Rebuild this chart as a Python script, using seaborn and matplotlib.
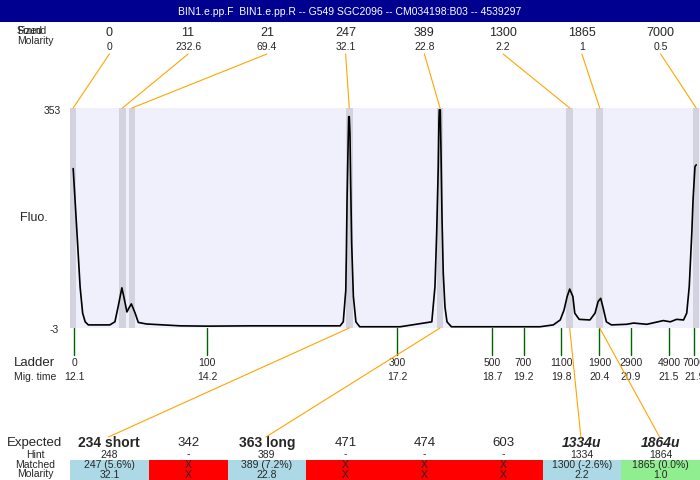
import numpy as np
import pandas as pd
import matplotlib
matplotlib.use("Agg")
import matplotlib.pyplot as plt
from matplotlib.patches import Rectangle, ConnectionPatch
import seaborn as sns

# ---- data ----
title = "BIN1.e.pp.F  BIN1.e.pp.R -- G549 SGC2096 -- CM034198:B03 -- 4539297"

# trace (migration time in min, fluorescence)
mig = [12.08, 12.11, 12.15, 12.19, 12.23, 12.27, 12.32, 12.66, 12.74, 12.79,
       12.85, 12.88, 12.93, 12.96, 13.00, 13.06, 13.11, 13.24, 13.77, 14.20,
       14.88, 15.67, 16.30, 16.35, 16.39, 16.40, 16.41, 16.425, 16.436, 16.445,
       16.456, 16.467, 16.483, 16.51, 16.55, 16.61, 17.25, 17.75, 17.80, 17.827,
       17.852, 17.863, 17.868, 17.884, 17.895, 17.911, 17.931, 17.958, 17.99, 18.06,
       18.83, 19.46, 19.67, 19.78, 19.84, 19.89, 19.93, 19.98, 20.01, 20.08,
       20.25, 20.33, 20.38, 20.42, 20.46, 20.51, 20.59, 20.83, 20.94, 21.15,
       21.41, 21.52, 21.62, 21.73, 21.78, 21.82, 21.86, 21.88, 21.91, 21.93]
fluo = [255, 204, 134, 63, 21, 7, 2, 2, 7, 31,
        62, 48, 23, 29, 36, 21, 6, 3.5, 0.5, 0,
        0.5, 0.5, 0.5, 7, 58, 123, 204, 285, 339, 339,
        312, 232, 134, 48, 7, -1, -1, 7, 64, 151,
        258, 334, 350, 350, 285, 177, 86, 31, 7, -1,
        -1, -1, 2, 10, 26, 48, 60, 48, 21, 11,
        10, 21, 40, 45, 29, 7, 2, 3, 5, 3,
        9, 7, 11, 10, 21, 64, 150, 204, 258, 261]

# found peaks
peak_size = ["0", "11", "21", "247", "389", "1300", "1865", "7000"]
peak_mol = ["0", "232.6", "69.4", "32.1", "22.8", "2.2", "1", "0.5"]
peak_time = [12.08, 12.86, 13.01, 16.445, 17.88, 19.93, 20.405, 21.93]

# ladder
ladder_size = ["0", "100", "300", "500", "700", "1100", "1900", "2900", "4900", "7000"]
ladder_time = [12.1, 14.2, 17.2, 18.7, 19.2, 19.8, 20.4, 20.9, 21.5, 21.9]

# expected table
expected = ["234 short", "342", "363 long", "471", "474", "603", "1334u", "1864u"]
exp_style = ["bold", "normal", "bold", "normal", "normal", "normal", "bolditalic", "bolditalic"]
hint = ["248", "-", "389", "-", "-", "-", "1334", "1864"]
matched = ["247 (5.6%)", "X", "389 (7.2%)", "X", "X", "X", "1300 (-2.6%)", "1865 (0.0%)"]
molarity = ["32.1", "X", "22.8", "X", "X", "X", "2.2", "1.0"]
cell_color = ["lightblue", "red", "lightblue", "red", "red", "red", "lightblue", "lightgreen"]
match_peak = [3, None, 4, None, None, None, 5, 6]

ymin, ymax = -3, 353
xmin, xmax = 12.03, 21.99

sns.set_style("white")
plt.rcParams['font.family'] = ['Liberation Sans', 'DejaVu Sans']

fig = plt.figure(figsize=(7, 4.8), dpi=100)

# layout axes in pixel units
lay = fig.add_axes([0, 0, 1, 1])
lay.set_xlim(0, 700)
lay.set_ylim(480, 0)
lay.axis('off')

# trace axes
ax = fig.add_axes([70/700, (480-328)/480, 630/700, 220/480])
ax.set_facecolor('#F0F0FD')
for s in ax.spines.values():
    s.set_visible(False)
for t in peak_time:
    ax.axvspan(t - 0.052, t + 0.052, color='#D3D3DF', lw=0)
df = pd.DataFrame({"time": mig, "fluo": fluo})
sns.lineplot(data=df, x="time", y="fluo", color='black', lw=1.2, ax=ax, errorbar=None)
ax.set_xlim(xmin, xmax)
ax.set_ylim(ymin, ymax)
ax.set_xticks([])
ax.set_yticks([])
ax.set_xlabel("")
ax.set_ylabel("")

# title bar
lay.add_patch(Rectangle((0, 0), 700, 22, color='#000090', lw=0))
lay.text(350, 12, title, color='white', fontsize=7.5, ha='center', va='center')

col_w = 630 / 8
cx = [70 + col_w * (i + 0.5) for i in range(8)]

# top labels
lay.text(17, 31, "Sized", fontsize=7.5, va='center', ha='left')
lay.text(17, 31, "Found", fontsize=7.5, va='center', ha='left')
lay.text(17, 41, "Molarity", fontsize=7.5, va='center', ha='left')
for i in range(8):
    lay.text(cx[i], 33, peak_size[i], fontsize=9, ha='center', va='center')
    lay.text(cx[i], 47, peak_mol[i], fontsize=7.5, ha='center', va='center')
    cp = ConnectionPatch(xyA=(peak_time[i], ymax), coordsA=ax.transData,
                         xyB=(cx[i], 54), coordsB=lay.transData,
                         color='orange', lw=0.8, shrinkA=0, shrinkB=0)
    fig.add_artist(cp)

# y labels
lay.text(61, 111, str(ymax), fontsize=7.5, ha='right', va='center')
lay.text(59, 330, str(ymin), fontsize=7.5, ha='right', va='center')
lay.text(34, 218, "Fluo.", fontsize=9, ha='center', va='center')

# ladder
lay.text(14, 363, "Ladder", fontsize=9.5, ha='left', va='center')
lay.text(14, 377, "Mig. time", fontsize=7.5, ha='left', va='center')
for s, t in zip(ladder_size, ladder_time):
    cp = ConnectionPatch(xyA=(t, ymin), coordsA=ax.transData,
                         xyB=(t, ymin), coordsB=ax.transData, color='#006400', lw=1)
    x_px = 70 + (t - xmin) / (xmax - xmin) * 630
    lay.plot([x_px, x_px], [328, 355], color='#006400', lw=1)
    lay.text(x_px, 363, s, fontsize=7.5, ha='center', va='center')
    lay.text(x_px, 377, f"{t:.1f}", fontsize=7.5, ha='center', va='center')

# expected table
lay.text(7, 443, "Expected", fontsize=9.5, ha='left', va='center')
lay.text(35, 455, "Hint", fontsize=7.5, ha='center', va='center')
lay.text(35, 465, "Matched", fontsize=7.5, ha='center', va='center')
lay.text(35, 474, "Molarity", fontsize=7.5, ha='center', va='center')
for i in range(8):
    lay.add_patch(Rectangle((70 + col_w * i, 460), col_w, 20, color=cell_color[i], lw=0))
    st = exp_style[i]
    lay.text(cx[i], 443, expected[i], fontsize=10 if st != "normal" else 9.5,
             fontweight='bold' if 'bold' in st else 'normal',
             fontstyle='italic' if 'italic' in st else 'normal',
             ha='center', va='center')
    lay.text(cx[i], 454.5, hint[i], fontsize=7.5, ha='center', va='center')
    lay.text(cx[i], 465, matched[i], fontsize=7.5, ha='center', va='center')
    lay.text(cx[i], 475, molarity[i], fontsize=7.5, ha='center', va='center')
    if match_peak[i] is not None:
        cp = ConnectionPatch(xyA=(peak_time[match_peak[i]], ymin), coordsA=ax.transData,
                             xyB=(cx[i] - 1, 437), coordsB=lay.transData,
                             color='orange', lw=0.8, shrinkA=0, shrinkB=0)
        fig.add_artist(cp)

fig.savefig("out.png", dpi=100)
